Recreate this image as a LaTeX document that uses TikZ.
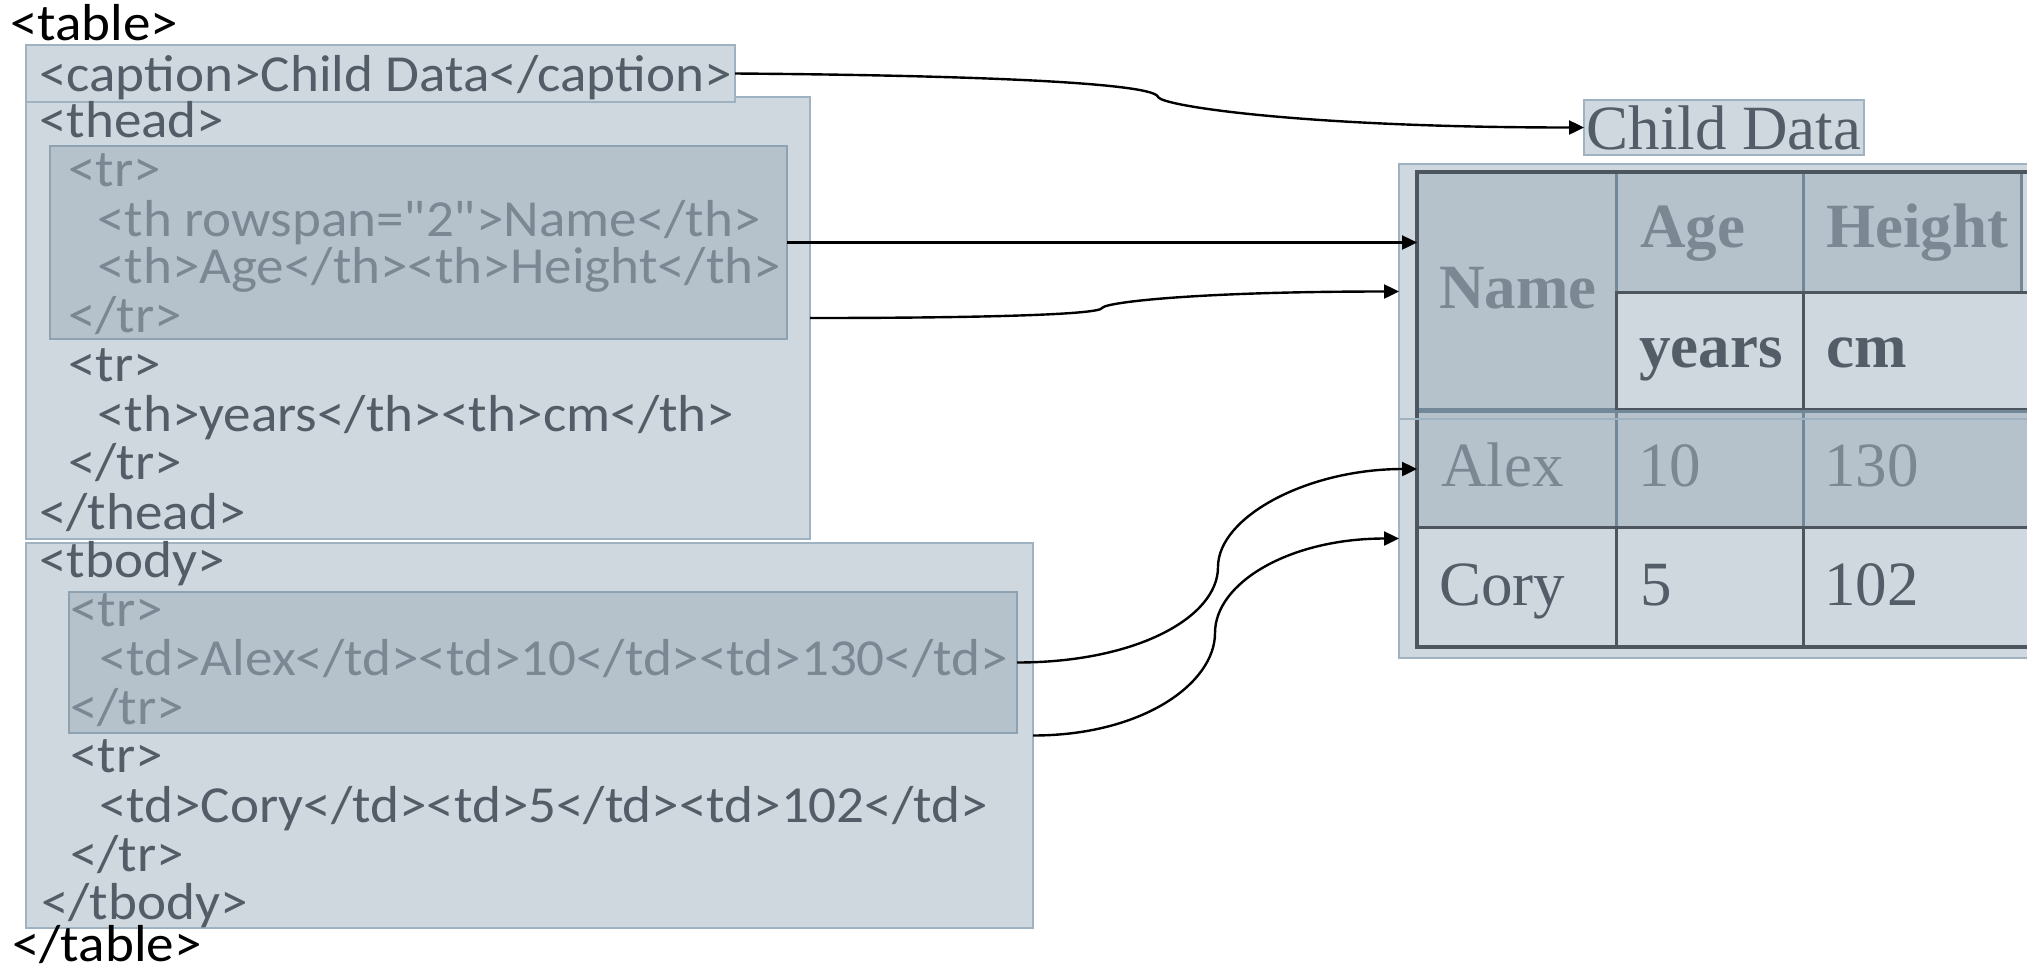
\documentclass[tikz,border=0pt]{standalone}
\usepackage{fontspec}
\setmainfont{Liberation Serif}
\newfontfamily\codefont[FakeStretch=1.06]{Carlito}
\usetikzlibrary{arrows.meta}

\definecolor{boxfill}{HTML}{CFD7DF}
\definecolor{boxline}{HTML}{9FB2C2}
\definecolor{rowfill}{HTML}{B5C2CC}
\definecolor{rowline}{HTML}{8EA2B2}
\definecolor{codetext}{HTML}{535D67}
\definecolor{fadetext}{HTML}{7B8894}
\definecolor{gridline}{HTML}{4D555F}
\definecolor{cellline}{HTML}{728798}

\tikzset{box/.style={draw=boxline, fill=boxfill, line width=2pt, anchor=north west, inner sep=0pt, outer sep=0pt}}
\tikzset{rowbox/.style={draw=rowline, fill=rowfill, line width=2pt, anchor=north west, inner sep=0pt, outer sep=0pt}}
\tikzset{code/.style={anchor=base west, inner sep=0pt, font=\codefont\fontsize{52}{56}\selectfont, text=codetext}}
\tikzset{fade/.style={text=fadetext}}
\tikzset{headcell/.style={fill=rowfill, draw=cellline, line width=3pt, anchor=north west, inner sep=0pt, outer sep=0pt}}
\tikzset{unitcell/.style={fill=boxfill, draw=gridline, line width=3pt, anchor=north west, inner sep=0pt, outer sep=0pt}}
\tikzset{celltext/.style={anchor=base west, inner sep=0pt, font=\fontsize{63}{70}\selectfont, text=codetext}}
\tikzset{link/.style={color=black, line width=2.4pt, -{Triangle[length=15pt,width=14pt]}}}

\begin{document}
\begin{tikzpicture}[x=1pt, y=-1pt]
  \useasboundingbox[fill=white] (0,0) rectangle (2027,970);

  % markup
  \node[box, minimum width=784, minimum height=442] (thead) at (26,97) {};
  \node[box, minimum width=709, minimum height=57] (caption) at (26,45) {};
  \node[rowbox, minimum width=737, minimum height=193] (theadtr) at (50,146) {};
  \node[box, minimum width=1007, minimum height=385] (tbody) at (26,543) {};
  \node[rowbox, minimum width=948, minimum height=141] (tbodytr) at (69,592) {};

  \node[code, text=black] (tableopen) at (10,40) {<table>};
  \node[code] (captionline) at (39,91) {<caption>Child Data</caption>};
  \node[code] (theadopen) at (39,137) {<thead>};
  \node[code, fade] (tropenA) at (68,186) {<tr>};
  \node[code, fade] (nameline) at (97,236) {<th rowspan="2">Name</th>};
  \node[code, fade] (ageline) at (97,283) {<th>Age</th><th>Height</th>};
  \node[code, fade] (trcloseA) at (68,332) {</tr>};
  \node[code] (tropenB) at (68,381) {<tr>};
  \node[code] (unitline) at (97,431) {<th>years</th><th>cm</th>};
  \node[code] (trcloseB) at (68,479) {</tr>};
  \node[code] (theadclose) at (39,529) {</thead>};
  \node[code] (tbodyopen) at (39,577) {<tbody>};
  \node[code, fade] (tropenC) at (70,626) {<tr>};
  \node[code, fade] (alexline) at (99,675) {<td>Alex</td><td>10</td><td>130</td>};
  \node[code, fade] (trcloseC) at (70,724) {</tr>};
  \node[code] (tropenD) at (70,772) {<tr>};
  \node[code] (coryline) at (99,822) {<td>Cory</td><td>5</td><td>102</td>};
  \node[code] (trcloseD) at (70,871) {</tr>};
  \node[code] (tbodyclose) at (41,919) {</tbody>};
  \node[code, text=black] (tableclose) at (12,961) {</table>};

  % rendered table
  \node[box, minimum width=280, minimum height=55, font=\fontsize{63}{70}\selectfont, text=codetext] (capview) at (1584,100) {Child Data};
  \node[box, draw=none, minimum width=700, minimum height=255] (headview) at (1399,164) {};
  \node[box, draw=none, minimum width=700, minimum height=239] (bodyview) at (1399,419) {};

  \node[headcell, minimum width=199, minimum height=237] (namecell) at (1417,172) {};
  \node[headcell, minimum width=187, minimum height=120] (agecell) at (1616,172) {};
  \node[headcell, minimum width=218, minimum height=120] (heightcell) at (1803,172) {};
  \node[unitcell, minimum width=187, minimum height=117] (yearscell) at (1616,292) {};
  \node[unitcell, minimum width=250, minimum height=117] (cmcell) at (1803,292) {};
  \node[headcell, minimum width=199, minimum height=116] (alexname) at (1417,411) {};
  \node[headcell, minimum width=187, minimum height=116] (alexage) at (1616,411) {};
  \node[headcell, minimum width=250, minimum height=116] (alexheight) at (1803,411) {};
  \node[unitcell, minimum width=199, minimum height=120] (coryname) at (1417,527) {};
  \node[unitcell, minimum width=187, minimum height=120] (coryage) at (1616,527) {};
  \node[unitcell, minimum width=250, minimum height=120] (coryheight) at (1803,527) {};
  \draw[gridline, line width=4pt] (namecell.north west) rectangle (coryheight.south east);
  \draw[boxline, line width=2pt] (headview.north east) -- (headview.north west) -- (bodyview.south west) -- (bodyview.south east);
  \draw[boxline, line width=2pt] (bodyview.north west) -- (bodyview.north east);

  \node[celltext, fade, font=\fontsize{63}{70}\selectfont\bfseries] (nametext) at (1439,308) {Name};
  \node[celltext, fade, font=\fontsize{63}{70}\selectfont\bfseries] (agetext) at (1640,247) {Age};
  \node[celltext, fade, font=\fontsize{63}{70}\selectfont\bfseries] (heighttext) at (1826,247) {Height};
  \node[celltext, font=\fontsize{63}{70}\selectfont\bfseries] (yearstext) at (1639,367) {years};
  \node[celltext, font=\fontsize{63}{70}\selectfont\bfseries] (cmtext) at (1826,367) {cm};
  \node[celltext, fade] (alextext) at (1441,486) {Alex};
  \node[celltext, fade] (alexagetext) at (1638,486) {10};
  \node[celltext, fade] (alexheighttext) at (1824,486) {130};
  \node[celltext] (corytext) at (1439,605) {Cory};
  \node[celltext] (coryagetext) at (1640,605) {5};
  \node[celltext] (coryheighttext) at (1824,605) {102};

  % connectors
  \coordinate (bendA) at (1158,97);
  \coordinate (bendB) at (1102,308);
  \coordinate (bendC) at (1218,567);
  \coordinate (bendD) at (1215,633);
  \draw[link] (caption.east) .. controls +(265,2) and +(-3,-13) .. (bendA)
    .. controls +(4,9) and +(-280,0) .. (capview.west);
  \draw[link] (theadtr.east) -- (theadtr.east -| namecell.west);
  \draw[link] (thead.east) .. controls +(190,0) and +(-2,6) .. (bendB)
    .. controls +(4,-6) and +(-200,0) .. (headview.west);
  \draw[link] (tbodytr.east) .. controls +(120,0) and +(0,50) .. (bendC)
    .. controls +(0,-50) and +(-110,0) .. (alexname.west);
  \draw[link] (tbody.east) .. controls +(110,0) and +(0,50) .. (bendD)
    .. controls +(0,-50) and +(-110,0) .. (bodyview.west);
\end{tikzpicture}
\end{document}
